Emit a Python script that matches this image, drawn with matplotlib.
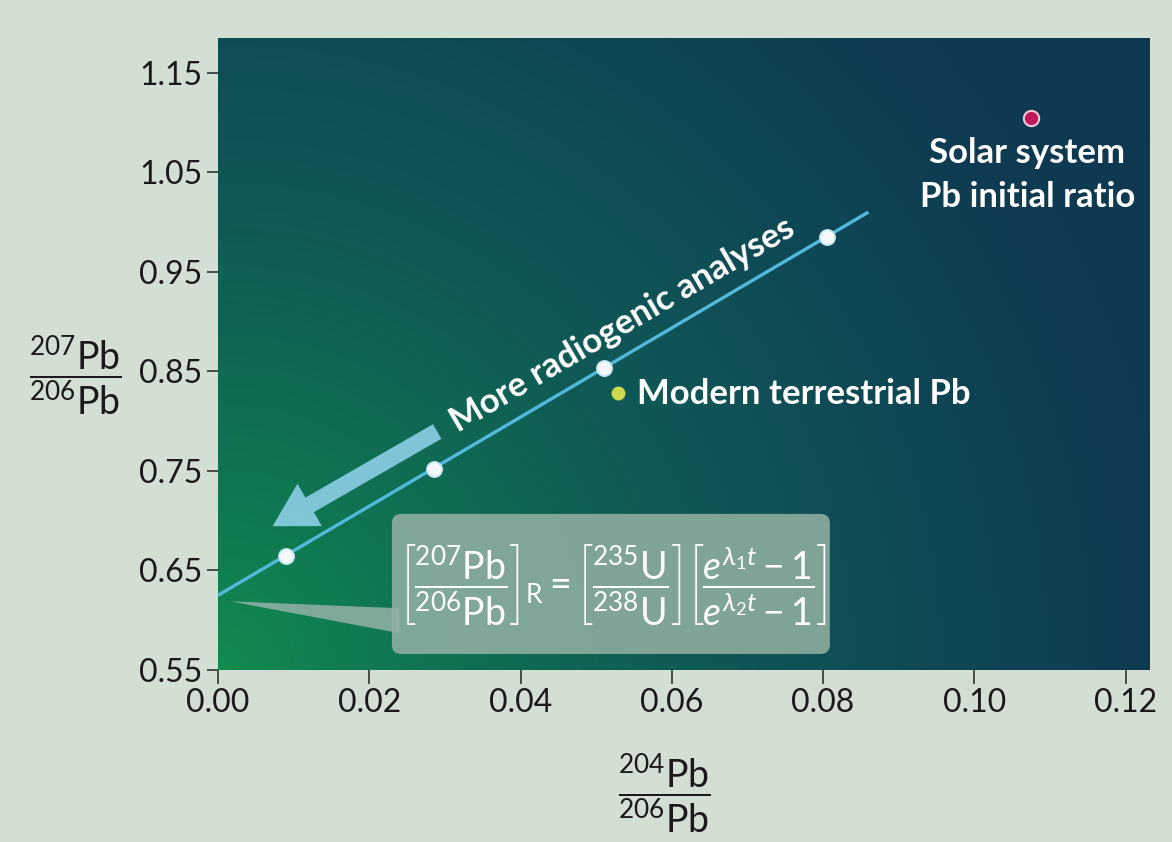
import numpy as np
import matplotlib
matplotlib.use("Agg")
import matplotlib.pyplot as plt
from matplotlib.colors import LinearSegmentedColormap
from matplotlib.patches import FancyBboxPatch, Polygon

plt.rcParams['font.family'] = ['Lato', 'DejaVu Sans']
plt.rcParams['mathtext.fontset'] = 'custom'
plt.rcParams['mathtext.rm'] = 'Lato'
plt.rcParams['mathtext.it'] = 'Lato:italic'
plt.rcParams['mathtext.bf'] = 'Lato:bold'

# --- data ---
isochron_x = [0.009, 0.0285, 0.051, 0.0805]      # 204Pb/206Pb
isochron_y = [0.665, 0.752, 0.853, 0.985]        # 207Pb/206Pb
fit_x = [0.0, 0.086]
fit_y = [0.625, 1.010]
modern_x, modern_y = 0.0529, 0.828
solar_x, solar_y = 0.1075, 1.105

x_ticks = [0.00, 0.02, 0.04, 0.06, 0.08, 0.10, 0.12]
y_ticks = [0.55, 0.65, 0.75, 0.85, 0.95, 1.05, 1.15]

x_lim = (0.0, 0.1232)
y_lim = (0.55, 1.185)

fig = plt.figure(figsize=(11.72, 8.42), dpi=100)
fig.patch.set_facecolor('#d3dfd3')
ax = fig.add_axes([0.186, 0.2043, 0.795, 0.7507])

# background: green in the lower-left fading to dark blue in the upper-right
cmap = LinearSegmentedColormap.from_list(
    'bg', ['#128b4f', '#0f7152', '#105b55', '#0f4b55', '#0e3c52', '#0e3850'])
gx, gy = np.meshgrid(np.linspace(0, 1, 300), np.linspace(0, 1, 200))
dist = np.sqrt((gx * 1.45) ** 2 + (gy * 1.0) ** 2) / np.sqrt(1.45 ** 2 + 1.0)
ax.imshow(dist, origin='lower', cmap=cmap, vmin=0, vmax=1, aspect='auto',
          extent=[x_lim[0], x_lim[1], y_lim[0], y_lim[1]], zorder=0,
          interpolation='bilinear')

# isochron line and analyses
ax.plot(fit_x, fit_y, color='#52b9dc', lw=2.4, zorder=3, solid_capstyle='butt')
ax.plot(isochron_x, isochron_y, 'o', ms=11, mfc='#f4f8fa', mec='#bfe3ef',
        mew=1.2, zorder=4)
ax.plot([modern_x], [modern_y], 'o', ms=9, mfc='#cdd84a', mec='#cdd84a', zorder=4)
ax.plot([solar_x], [solar_y], 'o', ms=11, mfc='#c0185a', mec='#f0c8d6',
        mew=1.5, zorder=4)

ax.text(modern_x + 0.0025, modern_y - 0.001, 'Modern terrestrial Pb', color='white',
        fontsize=25, fontweight='bold', ha='left', va='center', zorder=5)
ax.text(solar_x - 0.0005, 1.047, 'Solar system\nPb initial ratio', color='white',
        fontsize=25, fontweight='bold', ha='center', va='center',
        linespacing=1.45, zorder=5)

# arrow and label along the isochron
ax.annotate('', xy=(0.0069, 0.693), xytext=(0.0293, 0.791),
            arrowprops=dict(arrowstyle='simple,head_width=1.6,head_length=1.4,tail_width=0.55',
                            mutation_scale=22, fc='#8ccfe6', ec='none', alpha=0.9),
            zorder=3)
ax.text(0.0535, 0.897, 'More radiogenic analyses', color='white', fontsize=25,
        fontweight='bold', rotation=30.4, rotation_mode='anchor',
        ha='center', va='center', zorder=5)

# equation callout
ax.add_patch(Polygon([(0.0016, 0.619), (0.0240, 0.612), (0.0240, 0.587)],
                     closed=True, fc='#95b2a5', ec='none', alpha=0.85, zorder=2))
ax.add_patch(FancyBboxPatch((0.0230, 0.5661), 0.0579, 0.1407,
                            boxstyle='round,pad=0,rounding_size=0.0012',
                            mutation_aspect=7.6, fc='#95b2a5', ec='none',
                            alpha=0.85, zorder=2))
eq = (r'$\left[\dfrac{^{207}\mathrm{Pb}}{^{206}\mathrm{Pb}}\right]_{\mathrm{R}}'
      r' = \left[\dfrac{^{235}\mathrm{U}}{^{238}\mathrm{U}}\right]'
      r'\left[\dfrac{e^{\lambda_1 t} - 1}{e^{\lambda_2 t} - 1}\right]$')
ax.text(0.0522, 0.636, eq, color='white', fontsize=27, ha='center', va='center',
        zorder=5)

ax.set_xlim(*x_lim)
ax.set_ylim(*y_lim)
ax.set_xticks(x_ticks)
ax.set_yticks(y_ticks)
ax.set_xticklabels([f'{v:.2f}' for v in x_ticks])
ax.set_yticklabels([f'{v:.2f}' for v in y_ticks])
ax.tick_params(axis='both', direction='out', length=8, width=1.2, color='#333333',
               labelsize=23, labelcolor='#1a1a1a', pad=3)
ax.tick_params(axis='x', length=10)
for side in ['top', 'right', 'left', 'bottom']:
    ax.spines[side].set_visible(False)

fig.text(0.567, 0.058, r'$\dfrac{^{204}\mathrm{Pb}}{^{206}\mathrm{Pb}}$',
         fontsize=27, color='#1a1a1a', ha='center', va='center')
fig.text(0.064, 0.555, r'$\dfrac{^{207}\mathrm{Pb}}{^{206}\mathrm{Pb}}$',
         fontsize=27, color='#1a1a1a', ha='center', va='center')

fig.savefig('out.png', dpi=100, facecolor=fig.get_facecolor())
